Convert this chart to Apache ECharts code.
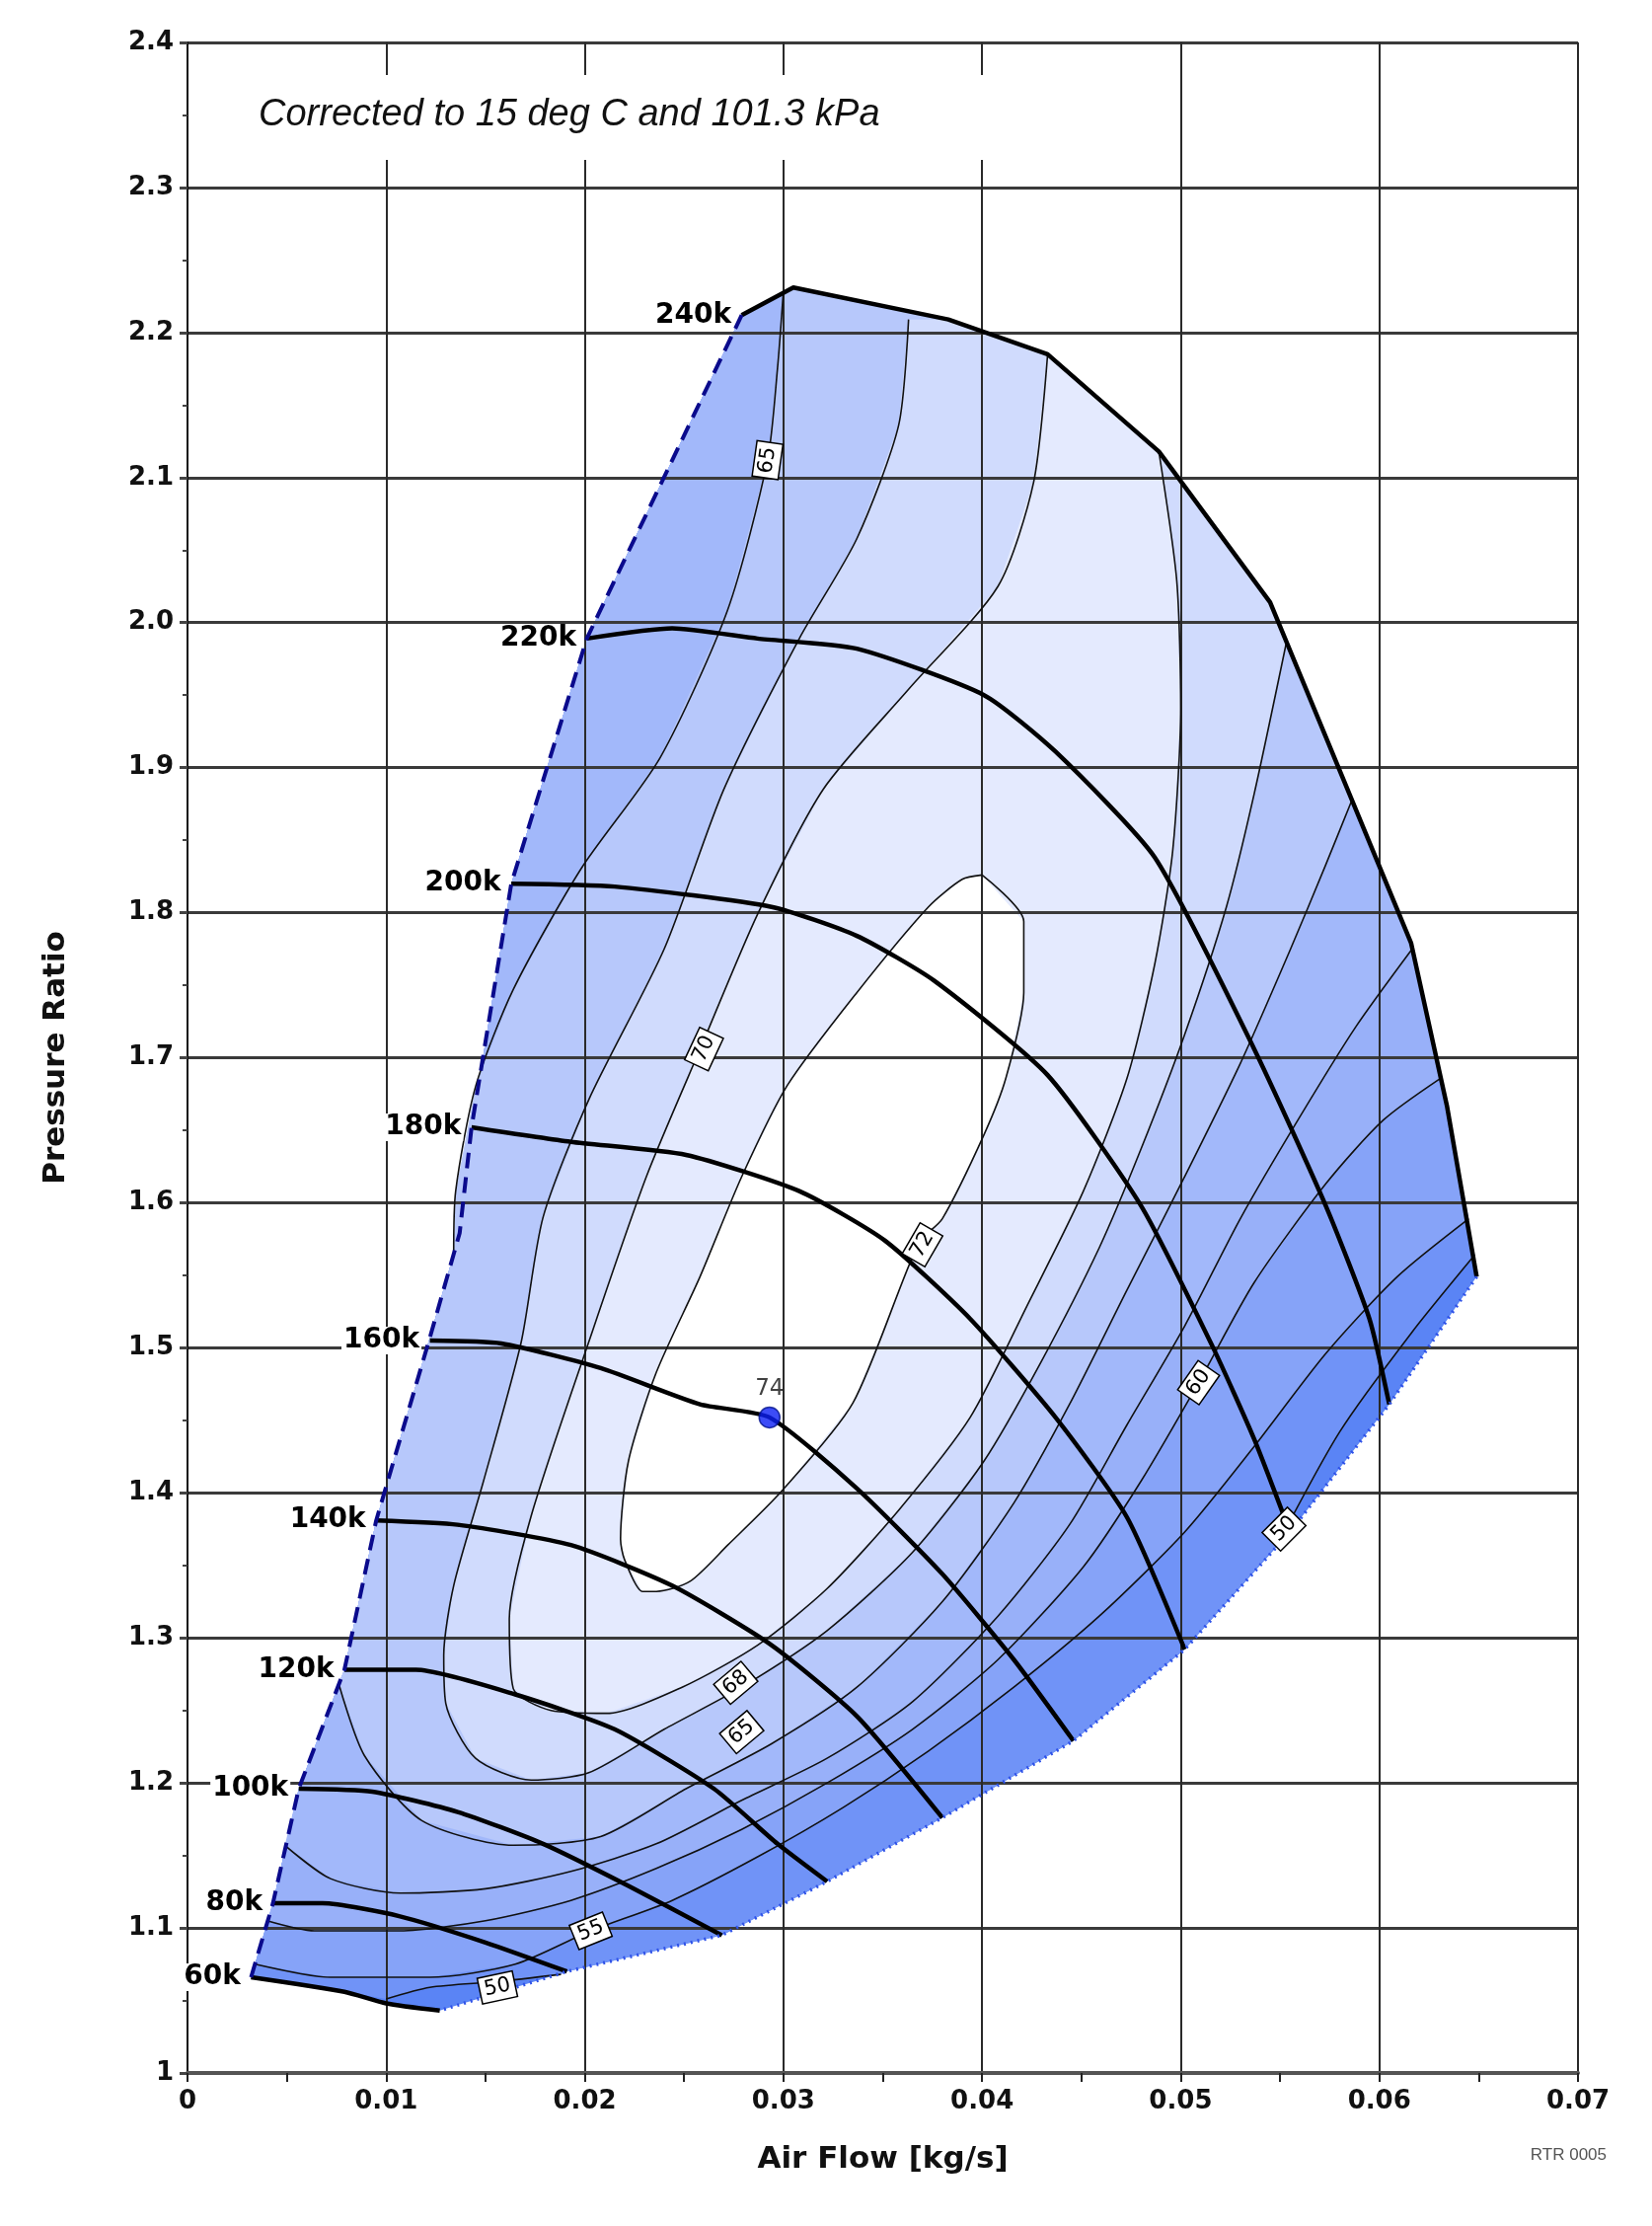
<!DOCTYPE html>
<html><head><meta charset="utf-8">
<script src="https://cdn.jsdelivr.net/npm/echarts@6/dist/echarts.min.js"></script>
<style>html,body{margin:0;padding:0;background:#fff}#c{width:1674px;height:2255px}</style>
</head><body><div id="c"></div>
<script>
// ---------- axis ticks ----------
const xTicks = [0, 0.01, 0.02, 0.03, 0.04, 0.05, 0.06, 0.07];
const yTicks = [1, 1.1, 1.2, 1.3, 1.4, 1.5, 1.6, 1.7, 1.8, 1.9, 2.0, 2.1, 2.2, 2.3, 2.4];

// ---------- map boundary ----------
const surge = [[.0032,1.066],[.0043,1.117],[.0056,1.196],[.0079,1.278],[.0095,1.381],[.0122,1.507],[.0137,1.579],[.0143,1.652],[.0163,1.820],[.0201,1.989],[.0279,2.212]];
const topRight = [[.0279,2.212],[.0305,2.231],[.0383,2.209],[.0433,2.185],[.0489,2.118],[.0545,2.014],[.0616,1.779],[.0634,1.667],[.0649,1.549]];
const choke = [[.0649,1.549],[.0605,1.461],[.0555,1.373],[.0502,1.292],[.0446,1.229],[.0380,1.176],[.0322,1.132],[.0269,1.095],[.0191,1.070],[.0127,1.043]];

// ---------- speed lines ----------
const speed60k  = [[.0032,1.066],[.0079,1.056],[.0100,1.048],[.0127,1.043]];
const speed80k  = [[.0043,1.117],[.0068,1.117],[.0107,1.108],[.0150,1.090],[.0191,1.070]];
const speed100k = [[.0056,1.196],[.0093,1.194],[.0136,1.180],[.0179,1.158],[.0222,1.129],[.0269,1.095]];
const speed120k = [[.0079,1.278],[.0115,1.278],[.0165,1.261],[.0215,1.237],[.0265,1.196],[.0297,1.158],[.0322,1.132]];
const speed140k = [[.0095,1.381],[.0136,1.378],[.0193,1.364],[.0244,1.336],[.0294,1.295],[.0337,1.246],[.0380,1.176]];
const speed160k = [[.0122,1.505],[.0158,1.503],[.0208,1.486],[.0258,1.461],[.0293,1.452],[.0337,1.403],[.0380,1.344],[.0416,1.285],[.0446,1.229]];
const speed180k = [[.0143,1.652],[.0193,1.642],[.0251,1.633],[.0308,1.608],[.0351,1.574],[.0394,1.520],[.0437,1.452],[.0473,1.383],[.0502,1.292]];
const speed200k = [[.0163,1.820],[.0215,1.818],[.0294,1.804],[.0337,1.784],[.0376,1.753],[.0433,1.688],[.0480,1.598],[.0516,1.501],[.0537,1.437],[.0555,1.373]];
const speed220k = [[.0201,1.989],[.0244,1.996],[.0287,1.989],[.0337,1.982],[.0401,1.950],[.0437,1.911],[.0487,1.838],[.0537,1.706],[.0573,1.598],[.0595,1.520],[.0605,1.461]];
const speedNames = ['60k','80k','100k','120k','140k','160k','180k','200k','220k','240k'];

// ---------- efficiency contours ----------
const eff72 = [[.0400,1.826],[.0421,1.794],[.0421,1.745],[.0412,1.686],[.0401,1.647],[.0380,1.589],[.0368,1.572],[.0335,1.462],[.0299,1.401],[.0272,1.364],[.0253,1.339],[.0236,1.332],[.0229,1.332],[.0220,1.354],[.0218,1.368],[.0222,1.422],[.0236,1.483],[.0258,1.549],[.0279,1.618],[.0302,1.681],[.0337,1.745],[.0373,1.804],[.0390,1.823],[.0400,1.826]];
const eff70 = [[.0433,2.185],[.0426,2.097],[.0408,2.025],[.0363,1.954],[.0320,1.885],[.0287,1.799],[.0259,1.709],[.0231,1.618],[.0202,1.504],[.0173,1.384],[.0162,1.313],[.0164,1.265],[.0183,1.250],[.0211,1.248],[.0249,1.266],[.0287,1.295],[.0322,1.334],[.0358,1.388],[.0394,1.452],[.0423,1.530],[.0451,1.608],[.0473,1.686],[.0487,1.765],[.0496,1.843],[.0500,1.941],[.0498,2.029],[.0489,2.118]];
const eff68 = [[.0363,2.209],[.0358,2.136],[.0337,2.058],[.0308,1.989],[.0270,1.885],[.0240,1.775],[.0202,1.671],[.0179,1.590],[.0168,1.504],[.0149,1.408],[.0134,1.336],[.0129,1.288],[.0130,1.255],[.0145,1.217],[.0173,1.202],[.0202,1.207],[.0240,1.237],[.0279,1.266],[.0322,1.305],[.0365,1.359],[.0401,1.422],[.0430,1.491],[.0459,1.569],[.0480,1.637],[.0502,1.716],[.0523,1.804],[.0537,1.882],[.0553,1.985]];
const eff65a = [[.0300,2.229],[.0297,2.175],[.0292,2.112],[.0272,2.009],[.0238,1.907],[.0198,1.830],[.0164,1.747],[.0145,1.680],[.0135,1.608],[.0134,1.564]];
const eff65b = [[.0076,1.269],[.0089,1.219],[.0118,1.174],[.0164,1.157],[.0208,1.163],[.0251,1.196],[.0294,1.227],[.0337,1.266],[.0380,1.325],[.0416,1.393],[.0444,1.461],[.0473,1.540],[.0502,1.618],[.0530,1.696],[.0555,1.774],[.0573,1.833],[.0586,1.877]];
const eff62 = [[.0049,1.157],[.0072,1.134],[.0107,1.124],[.0150,1.127],[.0193,1.139],[.0236,1.158],[.0279,1.188],[.0322,1.217],[.0365,1.256],[.0408,1.315],[.0444,1.378],[.0473,1.447],[.0502,1.515],[.0530,1.589],[.0559,1.657],[.0588,1.721],[.0616,1.774]];
const eff60 = [[.0040,1.105],[.0064,1.098],[.0107,1.098],[.0150,1.105],[.0193,1.119],[.0236,1.141],[.0279,1.168],[.0322,1.200],[.0365,1.237],[.0408,1.285],[.0451,1.349],[.0480,1.408],[.0509,1.476],[.0537,1.545],[.0573,1.613],[.0602,1.657],[.0631,1.686]];
const eff55 = [[.0034,1.075],[.0072,1.066],[.0122,1.066],[.0165,1.075],[.0203,1.098],[.0244,1.119],[.0287,1.149],[.0330,1.183],[.0373,1.222],[.0416,1.266],[.0459,1.315],[.0502,1.373],[.0537,1.432],[.0573,1.496],[.0609,1.549],[.0645,1.589]];
const eff50L = [[.0100,1.051],[.0122,1.059],[.0156,1.063],[.0188,1.068]];
const eff50R = [[.0648,1.564],[.0616,1.510],[.0580,1.442],[.0549,1.365]];

// contour labels: [x, y, text, angle]
const effLabels = [[.0292,2.112,'65',82],[.0260,1.706,'70',65],[.0370,1.571,'72',60],[.0509,1.476,'60',55],[.0552,1.375,'50',45],[.0276,1.269,'68',40],[.0279,1.235,'65',40],[.0203,1.098,'55',22],[.0156,1.059,'50',12]];
const peakPoint = [[.0293,1.452]];
const peakLabel = '74';

// ---------- fill polygons ----------
const rev = a => a.slice().reverse();
const topRightRev = rev(topRight);
const surgeRev = rev(surge);
const boundaryAll = surge.concat(topRight.slice(1), choke.slice(1), rev(speed60k).slice(1, -1));
const poly50 = surge.concat(topRight.slice(1).filter(p => p[1] > 1.564), eff50R, choke.filter(p => p[0] < .0549 && p[0] > .0188), rev(eff50L), speed60k.filter(p => p[0] < .0100).reverse());
const poly55 = eff55.concat(topRightRev.filter(p => p[1] > 1.589), surgeRev.slice(1).filter(p => p[1] > 1.075));
const poly60 = eff60.concat(topRightRev.filter(p => p[1] > 1.686), surgeRev.slice(1).filter(p => p[1] > 1.105));
const poly62 = eff62.concat(topRightRev.filter(p => p[1] > 1.779), surgeRev.slice(1).filter(p => p[1] > 1.157));
const poly65 = eff65b.concat(topRightRev.filter(p => p[1] > 1.877 && p[0] > .0300), eff65a, surgeRev.filter(p => p[1] < 1.564 && p[1] > 1.269));
const poly68 = eff68.concat(topRightRev.filter(p => p[1] > 1.985 && p[0] < .0553 && p[0] > .0363));
const poly70 = eff70.slice();
const poly72 = eff72.slice();

const fills = [
  [boundaryAll, '#5a84f5'], [poly50, '#7093f7'], [poly55, '#86a3f8'], [poly60, '#98b0f9'],
  [poly62, '#a2b8fa'], [poly65, '#b7c8fb'], [poly68, '#d0dbfd'], [poly70, '#e4eafe'], [poly72, '#ffffff']
];

const chart = echarts.init(document.getElementById('c'));
const series = [];
fills.forEach(([pts, col]) => {
  series.push({
    type: 'custom', z: 1, silent: true, data: [[0, 1]],
    renderItem: (params, api) => ({
      type: 'polygon',
      shape: { points: pts.map(p => api.coord(p)) },
      style: { fill: col, stroke: null }
    })
  });
});
const thin = (d) => ({ type: 'line', data: d, z: 5, smooth: 0.25, symbol: 'none', silent: true, lineStyle: { color: '#111', width: 1.6 } });
[eff72, eff70, eff68, eff65a, eff65b, eff62, eff60, eff55, eff50L, eff50R].forEach(d => series.push(thin(d)));
const speedArrays = [speed60k, speed80k, speed100k, speed120k, speed140k, speed160k, speed180k, speed200k, speed220k];
speedArrays.forEach(d => series.push({ type: 'line', data: d, z: 6, smooth: 0.2, symbol: 'none', silent: true, lineStyle: { color: '#000', width: 4.5 } }));
series.push({ type: 'line', data: topRight, z: 6, symbol: 'none', silent: true, lineStyle: { color: '#000', width: 4.5, join: 'round' } });
series.push({ type: 'line', data: surge, z: 7, symbol: 'none', silent: true, lineStyle: { color: '#0a0a8c', width: 4, type: [16, 9] } });
series.push({ type: 'line', data: choke, z: 7, symbol: 'none', silent: true, lineStyle: { color: '#2f52e8', width: 3.5, type: [2, 5] } });
// speed labels
const speedStarts = speedArrays.map(a => a[0]).concat([surge[surge.length - 1]]);
series.push({
  type: 'scatter', z: 8, symbolSize: 1, silent: true, itemStyle: { opacity: 0 },
  data: speedStarts.map((p, i) => ({ value: p, label: { formatter: speedNames[i] } })),
  label: { show: true, position: 'left', distance: 8, fontFamily: 'DejaVu Sans', fontWeight: 'bold', fontSize: 28, color: '#000', opacity: 1, backgroundColor: '#fff', padding: [0, 2] }
});
// contour labels
series.push({
  type: 'scatter', z: 9, symbolSize: 1, silent: true, itemStyle: { opacity: 0 },
  data: effLabels.map(l => ({ value: [l[0], l[1]], label: { formatter: l[2], rotate: l[3] } })),
  label: { show: true, position: 'inside', fontFamily: 'DejaVu Sans', fontSize: 21, color: '#000', opacity: 1, backgroundColor: '#fff', borderColor: '#000', borderWidth: 1.5, padding: [2, 4] }
});
// peak
series.push({
  type: 'scatter', z: 10, symbol: 'circle', symbolSize: 21, silent: true, data: peakPoint,
  itemStyle: { color: '#0b1ff5', borderColor: '#00108a', borderWidth: 1.5 },
  label: { show: true, position: 'top', distance: 6, formatter: peakLabel, fontFamily: 'DejaVu Sans', fontSize: 23, color: '#111' }
});

chart.setOption({
  animation: false,
  backgroundColor: '#fff',
  grid: { left: 190, right: 75, top: 43, bottom: 155 },
  xAxis: {
    type: 'value', min: xTicks[0], max: xTicks[xTicks.length - 1], interval: 0.01, z: 3,
    name: 'Air Flow [kg/s]', nameLocation: 'middle', nameGap: 72,
    nameTextStyle: { fontFamily: 'DejaVu Sans', fontWeight: 'bold', fontSize: 31, color: '#111' },
    axisLine: { show: true, lineStyle: { color: '#555', width: 4 } },
    axisTick: { show: true, length: 9, inside: false, lineStyle: { color: '#222', width: 2 } },
    minorTick: { show: true, splitNumber: 2, length: 9, lineStyle: { color: '#222', width: 2 } },
    axisLabel: { margin: 16, fontFamily: 'DejaVu Sans', fontWeight: 'bold', fontSize: 26, color: '#111',
      formatter: v => (Math.round(v * 100) / 100).toString() },
    splitLine: { show: true, lineStyle: { color: '#2a2a2a', width: 2 } }
  },
  yAxis: {
    type: 'value', min: yTicks[0], max: yTicks[yTicks.length - 1], interval: 0.1, z: 3,
    name: 'Pressure Ratio', nameLocation: 'middle', nameGap: 118,
    nameTextStyle: { fontFamily: 'DejaVu Sans', fontWeight: 'bold', fontSize: 31, color: '#111' },
    axisLine: { show: true, lineStyle: { color: '#111', width: 2 } },
    axisTick: { show: true, length: 8, lineStyle: { color: '#444', width: 3 } },
    minorTick: { show: true, splitNumber: 2, length: 5, lineStyle: { color: '#444', width: 2 } },
    axisLabel: { margin: 14, fontFamily: 'DejaVu Sans', fontWeight: 'bold', fontSize: 26, color: '#111',
      formatter: v => Math.abs(v - 1) < 1e-9 ? '1' : v.toFixed(1) },
    splitLine: { show: true, lineStyle: { color: '#3a3a3a', width: 3 } }
  },
  graphic: [
    { type: 'rect', z: 50, shape: { x: 193, y: 76, width: 900, height: 86 }, style: { fill: '#fff' } },
    { type: 'text', z: 51, x: 262, y: 116, style: { text: 'Corrected to 15 deg C and 101.3 kPa', font: 'italic 38px "Liberation Sans"', fill: '#111', textVerticalAlign: 'middle' } },
    { type: 'text', z: 51, x: 1628, y: 2183, style: { text: 'RTR 0005', font: '17px "Liberation Sans"', fill: '#555', textAlign: 'right', textVerticalAlign: 'middle' } }
  ],
  series
});
</script></body></html>
